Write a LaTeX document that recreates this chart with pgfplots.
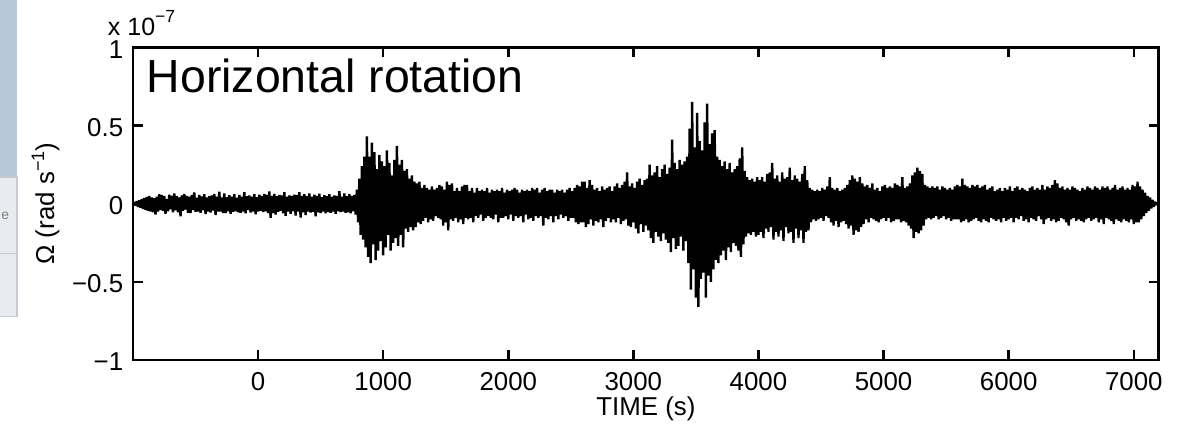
\documentclass[border=0pt]{standalone}
\usepackage{fontspec}
\setmainfont{Liberation Sans}
\usepackage{pgfplots}
\pgfplotsset{compat=1.18}

\definecolor{panelblue}{RGB}{184,200,216}
\definecolor{panelgray}{RGB}{232,236,240}
\definecolor{panelline}{RGB}{196,202,208}

\begin{document}
\begin{tikzpicture}
% page = reference frame (1181x427 px at 0.36pt/px), axis box corner at origin
\path[use as bounding box] (-47.86pt,-24.1pt) rectangle (377.2pt,129.6pt);
% cropped side panel of the screenshot
\fill[panelblue] (-47.86pt,65.9pt) rectangle (-41.75pt,129.6pt);
\filldraw[fill=panelgray, draw=panelline, line width=0.4pt] (-48.5pt,38.5pt) rectangle (-41.75pt,65.9pt);
\filldraw[fill=panelgray, draw=panelline, line width=0.4pt] (-48.5pt,15.8pt) rectangle (-41.75pt,38.5pt);
\node[text=gray, font=\fontsize{5}{6}\selectfont, anchor=base west, inner sep=0] at (-47.6pt,50.5pt) {e};

\begin{axis}[
  width=369.2pt, height=112.6pt, scale only axis,
  xmin=-1000, xmax=7200, ymin=-1, ymax=1,
  xtick={0,1000,2000,3000,4000,5000,6000,7000},
  xticklabels={0,1000,2000,3000,4000,5000,6000,7000},
  ytick={-1,-0.5,0,0.5,1},
  yticklabels={−1,−0.5,0,0.5,1},
  scaled ticks=false,
  tick align=inside, major tick length=3.6pt,
  axis line style={line width=1pt},
  every tick/.style={black, line width=0.9pt},
  tick label style={font=\fontsize{9.3}{10}\selectfont},
  x tick label style={anchor=base, yshift=-11.1pt},
  y tick label style={yshift=-0.7pt},
]
\addplot[black, line width=0.85pt, line join=bevel] coordinates {
(-1000,0) (-990,0.008) (-980,-0.012) (-970,0.016) (-960,-0.020) (-950,0.022) (-940,-0.026) (-930,0.030)
(-920,-0.034) (-910,0.036) (-900,-0.040) (-890,0.042) (-880,-0.046) (-870,0.050)
(-860,-0.050) (-850,0.040) (-840,-0.055) (-830,0.035) (-820,-0.070) (-810,0.045) (-800,-0.050) (-790,0.060) (-780,-0.040) (-770,0.055)
(-760,-0.045) (-750,0.050) (-740,-0.064) (-730,0.030) (-720,-0.048) (-710,0.058) (-700,-0.035) (-690,0.050) (-680,-0.055) (-670,0.066)
(-660,-0.042) (-650,0.048) (-640,-0.055) (-630,0.040) (-620,-0.080) (-610,0.052) (-600,-0.045) (-590,0.062) (-580,-0.038) (-570,0.050)
(-560,-0.058) (-550,0.044) (-540,-0.060) (-530,0.056) (-520,-0.040) (-510,0.072) (-500,-0.052) (-490,0.038) (-480,-0.050) (-470,0.055)
(-460,-0.058) (-450,0.046) (-440,-0.042) (-430,0.060) (-420,-0.066) (-410,0.040) (-400,-0.050) (-390,0.048) (-380,-0.056) (-370,0.052)
(-360,-0.044) (-350,0.062) (-340,-0.072) (-330,0.045) (-320,-0.050) (-310,0.076) (-300,-0.050) (-290,0.040) (-280,-0.060) (-270,0.066)
(-260,-0.060) (-250,0.042) (-240,-0.048) (-230,0.054) (-220,-0.064) (-210,0.045) (-200,-0.052) (-190,0.060) (-180,-0.048) (-170,0.038)
(-160,-0.055) (-150,0.056) (-140,-0.058) (-130,0.044) (-120,-0.050) (-110,0.074) (-100,-0.062) (-90,0.048) (-80,-0.040) (-70,0.052)
(-60,-0.056) (-50,0.045) (-40,-0.050) (-30,0.060) (-20,-0.068) (-10,0.042) (0,-0.050) (10,0.058) (20,-0.045) (30,0.050)
(40,-0.054) (50,0.062) (60,-0.048) (70,0.055) (80,-0.060) (90,0.078) (100,-0.090) (110,0.050) (120,-0.060) (130,0.062)
(140,-0.070) (150,0.048) (160,-0.052) (170,0.056) (180,-0.046) (190,0.052) (200,-0.062) (210,0.074) (220,-0.078) (230,0.045)
(240,-0.050) (250,0.052) (260,-0.064) (270,0.050) (280,-0.048) (290,0.058) (300,-0.076) (310,0.055) (320,-0.050) (330,0.074)
(340,-0.088) (350,0.050) (360,-0.055) (370,0.060) (380,-0.072) (390,0.048) (400,-0.050) (410,0.066) (420,-0.056) (430,0.045)
(440,-0.052) (450,0.058) (460,-0.080) (470,0.050) (480,-0.055) (490,0.064) (500,-0.060) (510,0.042) (520,-0.050) (530,0.054)
(540,-0.062) (550,0.048) (560,-0.054) (570,0.060) (580,-0.058) (590,0.045) (600,-0.050) (610,0.052) (620,-0.064) (630,0.050)
(640,-0.048) (650,0.080) (660,-0.054) (670,0.045) (680,-0.050) (690,0.066) (700,-0.058) (710,0.048) (720,-0.055) (730,0.060)
(740,-0.062) (750,0.050) (760,-0.048) (770,0.056)
(780,-0.07) (790,0.09) (800,-0.12) (810,0.16) (820,-0.20) (830,0.24) (840,-0.23) (850,0.30)
(860,-0.28) (870,0.43) (880,-0.34) (890,0.30) (900,-0.38) (910,0.39) (920,-0.26) (930,0.33)
(940,-0.36) (950,0.22) (960,-0.30) (970,0.31) (980,-0.24) (990,0.27) (1000,-0.33) (1010,0.24)
(1020,-0.28) (1030,0.34) (1040,-0.20) (1050,0.26) (1060,-0.30) (1070,0.18) (1080,-0.25) (1090,0.28)
(1100,-0.22) (1110,0.37) (1120,-0.27) (1130,0.25) (1140,-0.20) (1150,0.28) (1160,-0.28) (1170,0.21)
(1180,-0.16) (1190,0.22) (1200,-0.18) (1210,0.16) (1220,-0.15) (1230,0.18) (1240,-0.17) (1250,0.14)
(1260,-0.15) (1270,0.13) (1280,-0.12) (1290,0.14) (1300,-0.13) (1310,0.10) (1320,-0.11) (1330,0.12)
(1340,-0.09) (1350,0.10) (1360,-0.12) (1370,0.09) (1380,-0.10) (1390,0.11)
(1400,-0.11) (1410,0.09) (1420,-0.08) (1430,0.10) (1440,-0.09) (1450,0.12) (1460,-0.10) (1470,0.11) (1480,-0.14) (1490,0.09)
(1500,-0.12) (1510,0.14) (1520,-0.17) (1530,0.12) (1540,-0.10) (1550,0.13) (1560,-0.11) (1570,0.08) (1580,-0.09) (1590,0.10)
(1600,-0.12) (1610,0.08) (1620,-0.10) (1630,0.11) (1640,-0.13) (1650,0.12) (1660,-0.09) (1670,0.12) (1680,-0.10) (1690,0.08)
(1700,-0.09) (1710,0.10) (1720,-0.12) (1730,0.07) (1740,-0.08) (1750,0.10) (1760,-0.09) (1770,0.08) (1780,-0.07) (1790,0.09)
(1800,-0.11) (1810,0.08) (1820,-0.09) (1830,0.10) (1840,-0.08) (1850,0.07) (1860,-0.09) (1870,0.09) (1880,-0.10) (1890,0.08)
(1900,-0.07) (1910,0.09) (1920,-0.12) (1930,0.08) (1940,-0.09) (1950,0.10) (1960,-0.09) (1970,0.07) (1980,-0.08) (1990,0.09)
(2000,-0.10) (2010,0.08) (2020,-0.07) (2030,0.09) (2040,-0.11) (2050,0.10) (2060,-0.08) (2070,0.09) (2080,-0.09) (2090,0.07)
(2100,-0.08) (2110,0.09) (2120,-0.12) (2130,0.08) (2140,-0.07) (2150,0.09) (2160,-0.10) (2170,0.08) (2180,-0.09) (2190,0.10)
(2200,-0.11) (2210,0.09) (2220,-0.08) (2230,0.10) (2240,-0.09) (2250,0.07) (2260,-0.08) (2270,0.09) (2280,-0.14) (2290,0.10)
(2300,-0.09) (2310,0.08) (2320,-0.10) (2330,0.09) (2340,-0.08) (2350,0.09) (2360,-0.12) (2370,0.07) (2380,-0.08) (2390,0.09)
(2400,-0.10) (2410,0.08) (2420,-0.07) (2430,0.09) (2440,-0.09) (2450,0.07) (2460,-0.08) (2470,0.09) (2480,-0.11) (2490,0.10)
(2500,-0.09) (2510,0.08) (2520,-0.09) (2530,0.10) (2540,-0.12) (2550,0.12) (2560,-0.13) (2570,0.11) (2580,-0.12) (2590,0.14)
(2600,-0.12) (2610,0.14) (2620,-0.15) (2630,0.10) (2640,-0.13) (2650,0.15) (2660,-0.10) (2670,0.12)
(2680,-0.14) (2690,0.09) (2700,-0.11) (2710,0.10) (2720,-0.12) (2730,0.08) (2740,-0.10) (2750,0.11)
(2760,-0.15) (2770,0.09) (2780,-0.11) (2790,0.10) (2800,-0.09) (2810,0.11) (2820,-0.12) (2830,0.08)
(2840,-0.10) (2850,0.11) (2860,-0.12) (2870,0.13) (2880,-0.09) (2890,0.10) (2900,-0.13) (2910,0.12)
(2920,-0.11) (2930,0.14) (2940,-0.10) (2950,0.20) (2960,-0.14) (2970,0.11) (2980,-0.15) (2990,0.13)
(3000,-0.12) (3010,0.10) (3020,-0.16) (3030,0.14) (3040,-0.19) (3050,0.16) (3060,-0.13) (3070,0.12)
(3080,-0.18) (3090,0.15) (3100,-0.14) (3110,0.16) (3120,-0.17) (3130,0.25) (3140,-0.22) (3150,0.18)
(3160,-0.25) (3170,0.20) (3180,-0.18) (3190,0.24) (3200,-0.21) (3210,0.17) (3220,-0.24) (3230,0.22)
(3240,-0.19) (3250,0.25) (3260,-0.23) (3270,0.19) (3280,-0.25) (3290,0.23) (3300,-0.31) (3310,0.41)
(3320,-0.22) (3330,0.26) (3340,-0.29) (3350,0.22) (3360,-0.27) (3370,0.28) (3380,-0.21) (3390,0.25)
(3400,-0.30) (3410,0.27) (3420,-0.24) (3430,0.30) (3440,-0.38) (3450,0.48) (3460,-0.55) (3470,0.65)
(3480,-0.42) (3490,0.36) (3500,-0.60) (3510,0.58) (3520,-0.66) (3530,0.40) (3540,-0.48) (3550,0.34)
(3560,-0.44) (3570,0.52) (3580,-0.60) (3590,0.64) (3600,-0.46) (3610,0.38) (3620,-0.50) (3630,0.45)
(3640,-0.42) (3650,0.47) (3660,-0.36) (3670,0.30) (3680,-0.38) (3690,0.28) (3700,-0.33) (3710,0.24)
(3720,-0.30) (3730,0.27) (3740,-0.36) (3750,0.22) (3760,-0.28) (3770,0.26) (3780,-0.31) (3790,0.20)
(3800,-0.25) (3810,0.22) (3820,-0.27) (3830,0.24) (3840,-0.30) (3850,0.29) (3860,-0.34) (3870,0.36)
(3880,-0.26) (3890,0.21) (3900,-0.21) (3910,0.17) (3920,-0.19) (3930,0.15) (3940,-0.20) (3950,0.16)
(3960,-0.18) (3970,0.14) (3980,-0.21) (3990,0.17)
(4000,-0.20) (4010,0.15) (4020,-0.18) (4030,0.17) (4040,-0.22) (4050,0.14) (4060,-0.16) (4070,0.19) (4080,-0.18) (4090,0.20)
(4100,-0.15) (4110,0.26) (4120,-0.23) (4130,0.16) (4140,-0.18) (4150,0.18) (4160,-0.21) (4170,0.14) (4180,-0.17) (4190,0.20)
(4200,-0.24) (4210,0.16) (4220,-0.15) (4230,0.17) (4240,-0.19) (4250,0.23) (4260,-0.18) (4270,0.15) (4280,-0.25) (4290,0.18)
(4300,-0.16) (4310,0.16) (4320,-0.22) (4330,0.14) (4340,-0.17) (4350,0.19) (4360,-0.25) (4370,0.24) (4380,-0.18) (4390,0.15)
(4400,-0.17) (4410,0.10) (4420,-0.12) (4430,0.09) (4440,-0.10) (4450,0.08) (4460,-0.11) (4470,0.09) (4480,-0.10) (4490,0.08)
(4500,-0.09) (4510,0.10) (4520,-0.11) (4530,0.09) (4540,-0.08) (4550,0.11) (4560,-0.09) (4570,0.17) (4580,-0.12) (4590,0.10)
(4600,-0.14) (4610,0.09) (4620,-0.11) (4630,0.10) (4640,-0.15) (4650,0.08) (4660,-0.12) (4670,0.09) (4680,-0.11) (4690,0.10)
(4700,-0.13) (4710,0.12) (4720,-0.16) (4730,0.15) (4740,-0.14) (4750,0.18) (4760,-0.20) (4770,0.16) (4780,-0.17) (4790,0.14)
(4800,-0.18) (4810,0.17) (4820,-0.15) (4830,0.13) (4840,-0.13) (4850,0.11) (4860,-0.10) (4870,0.12) (4880,-0.12) (4890,0.10)
(4900,-0.09) (4910,0.13) (4920,-0.10) (4930,0.09) (4940,-0.11) (4950,0.10) (4960,-0.12) (4970,0.08) (4980,-0.10) (4990,0.11)
(5000,-0.09) (5010,0.12) (5020,-0.11) (5030,0.10) (5040,-0.09) (5050,0.11) (5060,-0.12) (5070,0.10) (5080,-0.11) (5090,0.13)
(5100,-0.10) (5110,0.12) (5120,-0.10) (5130,0.11) (5140,-0.12) (5150,0.17) (5160,-0.11) (5170,0.10) (5180,-0.12) (5190,0.11)
(5200,-0.14) (5210,0.13) (5220,-0.16) (5230,0.18) (5240,-0.22) (5250,0.20) (5260,-0.18) (5270,0.23) (5280,-0.19) (5290,0.21)
(5300,-0.17) (5310,0.19) (5320,-0.14) (5330,0.12) (5340,-0.10) (5350,0.11) (5360,-0.09) (5370,0.10) (5380,-0.10) (5390,0.11)
(5400,-0.09) (5410,0.10) (5420,-0.08) (5430,0.11) (5440,-0.10) (5450,0.09) (5460,-0.09) (5470,0.11) (5480,-0.08) (5490,0.10)
(5500,-0.10) (5510,0.09) (5520,-0.09) (5530,0.10) (5540,-0.11) (5550,0.09) (5560,-0.10) (5570,0.11) (5580,-0.10) (5590,0.12)
(5600,-0.10) (5610,0.11) (5620,-0.12) (5630,0.16) (5640,-0.11) (5650,0.12) (5660,-0.10) (5670,0.11) (5680,-0.12) (5690,0.10)
(5700,-0.11) (5710,0.12) (5720,-0.10) (5730,0.11) (5740,-0.09) (5750,0.12) (5760,-0.11) (5770,0.10) (5780,-0.12) (5790,0.11)
(5800,-0.10) (5810,0.12) (5820,-0.11) (5830,0.09) (5840,-0.12) (5850,0.10) (5860,-0.09) (5870,0.11) (5880,-0.10) (5890,0.08)
(5900,-0.11) (5910,0.09) (5920,-0.10) (5930,0.10) (5940,-0.12) (5950,0.08) (5960,-0.09) (5970,0.10) (5980,-0.11) (5990,0.09)
(6000,-0.10) (6010,0.11) (6020,-0.09) (6030,0.08) (6040,-0.12) (6050,0.10) (6060,-0.09) (6070,0.11) (6080,-0.10) (6090,0.09)
(6100,-0.08) (6110,0.10) (6120,-0.11) (6130,0.09) (6140,-0.10) (6150,0.08) (6160,-0.12) (6170,0.10) (6180,-0.09) (6190,0.11)
(6200,-0.10) (6210,0.09) (6220,-0.11) (6230,0.10) (6240,-0.08) (6250,0.09) (6260,-0.10) (6270,0.12) (6280,-0.13) (6290,0.09)
(6300,-0.10) (6310,0.11) (6320,-0.09) (6330,0.10) (6340,-0.11) (6350,0.12) (6360,-0.10) (6370,0.15) (6380,-0.12) (6390,0.13)
(6400,-0.11) (6410,0.10) (6420,-0.09) (6430,0.11) (6440,-0.10) (6450,0.09) (6460,-0.12) (6470,0.10) (6480,-0.14) (6490,0.09)
(6500,-0.10) (6510,0.11) (6520,-0.09) (6530,0.10) (6540,-0.11) (6550,0.09) (6560,-0.10) (6570,0.08) (6580,-0.11) (6590,0.10)
(6600,-0.12) (6610,0.09) (6620,-0.10) (6630,0.11) (6640,-0.09) (6650,0.10) (6660,-0.11) (6670,0.09) (6680,-0.10) (6690,0.11)
(6700,-0.09) (6710,0.10) (6720,-0.12) (6730,0.09) (6740,-0.10) (6750,0.11) (6760,-0.13) (6770,0.10) (6780,-0.09) (6790,0.11)
(6800,-0.10) (6810,0.09) (6820,-0.11) (6830,0.10) (6840,-0.13) (6850,0.12) (6860,-0.10) (6870,0.09) (6880,-0.11) (6890,0.10)
(6900,-0.12) (6910,0.11) (6920,-0.10) (6930,0.09) (6940,-0.11) (6950,0.10) (6960,-0.12) (6970,0.09) (6980,-0.10) (6990,0.12)
(7000,-0.13) (7010,0.11) (7020,-0.12) (7030,0.14) (7040,-0.12) (7050,0.11) (7060,-0.10) (7070,0.09) (7080,-0.08) (7090,0.07)
(7100,-0.06) (7110,0.05) (7120,-0.045) (7130,0.04) (7140,-0.03) (7150,0.025) (7160,-0.02) (7170,0.012) (7180,-0.008) (7190,0.004)
(7200,0)
};
\coordinate (tl) at (rel axis cs:0,1);
\coordinate (ml) at (rel axis cs:0,0.5);
\coordinate (bm) at (rel axis cs:0.5,0);
\end{axis}

\node[anchor=base west, inner sep=0, font=\fontsize{16.7}{20}\selectfont] at ([xshift=4.8pt,yshift=-16.2pt]tl) {Horizontal rotation};
\node[anchor=base west, inner sep=0, font=\fontsize{9}{10}\selectfont] at ([xshift=-9.2pt,yshift=4.1pt]tl) {x 10\raisebox{4.8pt}{\fontsize{6.3}{7}\selectfont −7}};
\node[anchor=base, inner sep=0, rotate=90, font=\fontsize{9.3}{10}\selectfont] at ([xshift=-28.4pt]ml) {Ω (rad s\raisebox{3.6pt}{\fontsize{6.5}{7}\selectfont −1})};
\node[anchor=base, inner sep=0, font=\fontsize{9.3}{10}\selectfont] at ([yshift=-20.1pt]bm) {TIME (s)};
\end{tikzpicture}
\end{document}
